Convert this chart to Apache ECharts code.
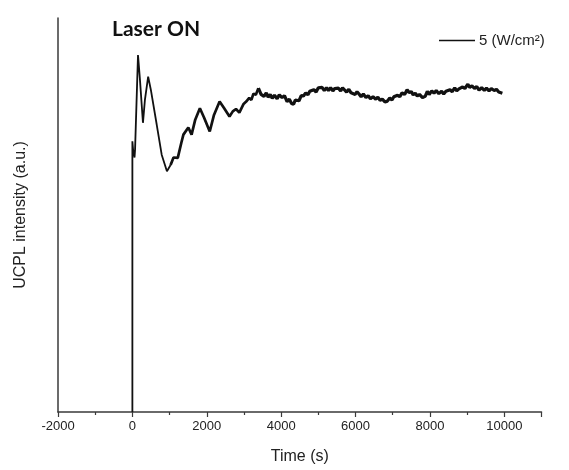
<!DOCTYPE html>
<html>
<head>
<meta charset="utf-8">
<script src="https://cdn.jsdelivr.net/npm/echarts@6/dist/echarts.min.js"></script>
<style>html,body{margin:0;padding:0;background:#fff;}#c{width:569px;height:470px;}</style>
</head>
<body>
<div id="c"></div>
<script>
const seriesName = '5 (W/cm\u00B2)';
const xTickLabels = ['-2000','0','2000','4000','6000','8000','10000'];
// initial jump and first oscillations after the laser is switched on
const timesEarly = [0,0,19,58,72,151,204,284,337,424,496,655,788,929,1027];
const intensityEarly = [0,68.7,66.6,64.6,66.6,90.6,84.3,73.4,79.2,85.1,81.8,72.9,65.3,61.1,62.7];
// damped oscillations
const timesMid = [1027,1106,1220,1318,1372,1504,1592,1690,1815,1929,2080,2194,2345,2459,2611,2700,2786,2876,2990,3060,3141,3200,3255,3320,3388];
const intensityMid = [62.7,64.6,64.5,68.4,70.4,72.2,70.4,74.2,77.1,74.7,71.2,75.4,78.8,77.2,75.0,76.3,76.9,76.0,78.2,78.8,79.7,79.2,80.8,80.5,82.2];
// noisy plateau
const timesLate = [3388,3460,3539,3600,3650,3706,3760,3820,3892,3950,4025,4090,4158,4220,4280,4335,4380,4423,4480,4540,4600,4660,4720,4770,4820,4880,4940,5000,5041,5100,5160,5220,5272,5330,5390,5440,5484,5540,5600,5650,5696,5760,5820,5880,5927,5990,6040,6094,6150,6210,6280,6340,6400,6470,6545,6600,6660,6720,6790,6855,6920,6980,7030,7076,7130,7190,7250,7320,7386,7440,7500,7550,7606,7660,7720,7800,7872,7930,7980,8050,8110,8170,8240,8314,8370,8430,8482,8540,8600,8667,8720,8780,8827,8880,8940,9020,9070,9130,9198,9260,9320,9390,9463,9520,9590,9650,9728,9790,9850,9900,9948];
const intensityLate = [82.2,80.6,80.1,81.0,79.9,80.6,79.6,80.4,79.5,80.5,79.8,80.3,78.8,79.4,78.3,78.1,79.2,79.6,79.0,80.3,80.2,81.0,80.5,81.4,81.1,81.8,81.2,82.3,81.9,82.4,81.6,82.3,81.6,82.3,81.5,82.1,81.6,82.2,81.5,82.3,81.8,81.2,81.9,81.0,81.4,80.6,81.3,80.7,80.0,80.7,79.8,80.3,79.5,80.0,79.4,79.9,79.1,79.4,78.7,78.9,79.7,79.2,80.0,79.6,80.4,80.0,81.0,80.6,81.8,81.1,81.3,80.5,80.9,80.2,80.6,79.8,80.1,81.4,80.6,81.5,80.9,81.6,80.8,81.4,80.7,81.4,80.9,81.8,81.3,82.3,81.5,82.0,81.7,82.5,82.1,83.2,82.4,82.8,82.1,82.6,81.7,82.3,81.6,82.2,81.5,82.1,81.6,81.9,81.2,81.6,80.9];

const pairs = (ts, vs) => ts.map((t, i) => [t, vs[i]]);
const axisColor = '#3a3a3a';
const chart = echarts.init(document.getElementById('c'));
chart.setOption({
  animation: false,
  backgroundColor: '#fff',
  title: {
    text: 'Laser ON', left: 107, top: 14,
    textStyle: {fontFamily: 'Lato', fontWeight: 'bold', fontSize: 21, color: '#111'}
  },
  legend: {
    left: 434, top: 28, icon: 'rect', itemWidth: 36, itemHeight: 1.5, itemGap: 0,
    textStyle: {fontFamily: 'Liberation Sans', fontSize: 15, color: '#222', padding: [0,0,0,-1]},
    data: [seriesName]
  },
  grid: {left: 58, right: 27.5, top: 18, bottom: 57},
  xAxis: {
    type: 'value', min: -2000, max: 11000, interval: 2000,
    name: 'Time (s)', nameLocation: 'middle', nameGap: 37,
    nameTextStyle: {fontFamily: 'Liberation Sans', fontSize: 16, color: '#222'},
    axisLine: {show: true, onZero: false, lineStyle: {color: axisColor, width: 1.5}},
    axisTick: {show: true, length: 5, lineStyle: {color: axisColor, width: 1.2}},
    minorTick: {show: true, splitNumber: 2, length: 3, lineStyle: {color: axisColor, width: 1.2}},
    splitLine: {show: false},
    axisLabel: {
      showMaxLabel: false, margin: 8,
      fontFamily: 'Liberation Sans', fontSize: 13, color: '#222',
      formatter: v => { const s = String(v); return xTickLabels.includes(s) ? s : ''; }
    }
  },
  yAxis: {
    type: 'value', min: 0, max: 100,
    name: 'UCPL intensity (a.u.)', nameLocation: 'middle', nameGap: 29, nameRotate: 90,
    nameTextStyle: {fontFamily: 'Liberation Sans', fontSize: 16, color: '#222'},
    axisLine: {show: true, onZero: false, lineStyle: {color: axisColor, width: 1.5}},
    axisTick: {show: false}, axisLabel: {show: false}, splitLine: {show: false}
  },
  series: [{
    name: seriesName, type: 'line', data: pairs(timesEarly, intensityEarly), showSymbol: false,
    color: '#111', lineStyle: {color: '#111', width: 1.8}
  }, {
    name: seriesName, type: 'line', data: pairs(timesMid, intensityMid), showSymbol: false,
    color: '#111', lineStyle: {color: '#111', width: 2.7}
  }, {
    name: seriesName, type: 'line', data: pairs(timesLate, intensityLate), showSymbol: false,
    color: '#111', lineStyle: {color: '#111', width: 3.2}
  }]
});
</script>
</body>
</html>
